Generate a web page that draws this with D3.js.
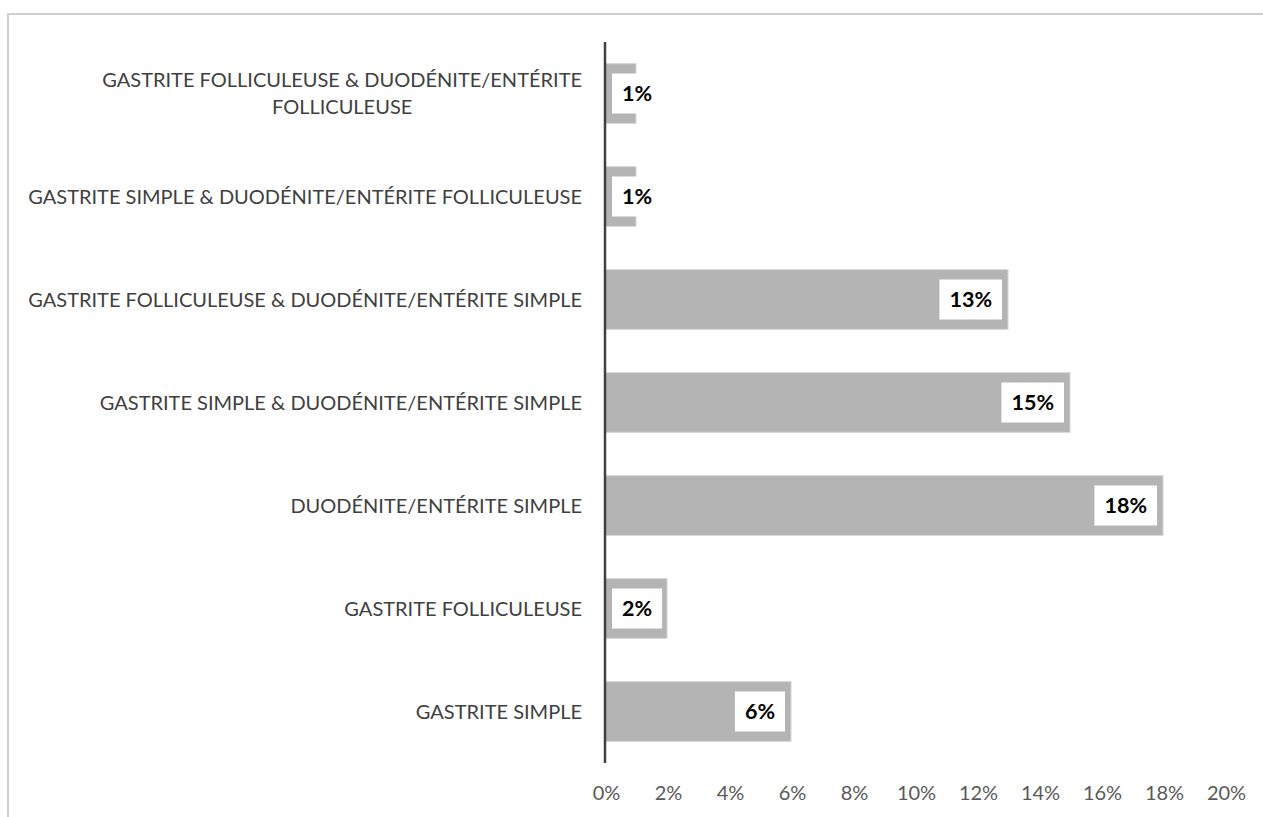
<!DOCTYPE html>
<html><head><meta charset="utf-8">
<script src="https://cdn.jsdelivr.net/npm/d3@7"></script>
<style>
html,body{margin:0;padding:0;background:#fff;}
svg{display:block;}
</style></head>
<body>
<svg id="chart" width="1263" height="817"></svg>
<script>
const categories = [
  ["GASTRITE FOLLICULEUSE & DUODÉNITE/ENTÉRITE", "FOLLICULEUSE"],
  ["GASTRITE SIMPLE & DUODÉNITE/ENTÉRITE FOLLICULEUSE"],
  ["GASTRITE FOLLICULEUSE & DUODÉNITE/ENTÉRITE SIMPLE"],
  ["GASTRITE SIMPLE & DUODÉNITE/ENTÉRITE SIMPLE"],
  ["DUODÉNITE/ENTÉRITE SIMPLE"],
  ["GASTRITE FOLLICULEUSE"],
  ["GASTRITE SIMPLE"]
];
const values = [1, 1, 13, 15, 18, 2, 6];
const xTicks = [0, 2, 4, 6, 8, 10, 12, 14, 16, 18, 20];

const svg = d3.select("#chart");
const font = "Lato, 'Open Sans', sans-serif";
const catSize = 20;

// outer border
svg.append("rect").attr("x", 8).attr("y", 14).attr("width", 1300).attr("height", 900)
  .attr("fill", "none").attr("stroke", "#d0d0d0").attr("stroke-width", 2);

const x = d3.scaleLinear().domain([0, 20]).range([605, 1225]);
const y = d3.scaleBand().domain(d3.range(categories.length)).range([42, 763]).paddingInner(0.42).paddingOuter(0.21);

svg.append("g").selectAll("rect.bar").data(values).join("rect").attr("class", "bar")
  .attr("x", x(0)).attr("y", (d, i) => y(i))
  .attr("width", d => x(d) - x(0)).attr("height", y.bandwidth())
  .attr("fill", "#b4b4b4").attr("stroke", "#d6d6d6").attr("stroke-width", 1);

// axis line
svg.append("line").attr("x1", x(0)).attr("x2", x(0)).attr("y1", 42).attr("y2", 763)
  .attr("stroke", "#404040").attr("stroke-width", 2.5);

// category labels
categories.forEach((lines, i) => {
  const cy = y(i) + y.bandwidth() / 2;
  const lh = 27;
  const t = svg.append("text").attr("font-family", font).attr("font-size", catSize)
    .attr("fill", "#404040");
  const y0 = cy - (lines.length - 1) * lh / 2;
  if (lines.length === 1) {
    t.append("tspan").attr("x", 582).attr("y", y0).attr("dy", "0.35em")
      .attr("text-anchor", "end").text(lines[0]);
  } else {
    const tmp = svg.append("text").attr("font-family", font).attr("font-size", catSize).text(lines[0]);
    const w = tmp.node().getComputedTextLength(); tmp.remove();
    const cx = 582 - w / 2;
    lines.forEach((ln, k) => {
      t.append("tspan").attr("x", cx).attr("y", y0 + k * lh).attr("dy", "0.35em")
        .attr("text-anchor", "middle").text(ln);
    });
  }
});

// data labels
values.forEach((v, i) => {
  const cy = y(i) + y.bandwidth() / 2;
  const txt = svg.append("text").attr("font-family", font).attr("font-size", 21.5)
    .attr("font-weight", "bold").attr("fill", "#000").attr("text-anchor", "middle")
    .attr("dy", "0.35em").text(v + "%");
  const tw = txt.node().getComputedTextLength();
  const bw = tw + 20, bh = 40;
  const right = Math.max(x(v) - 6, x(0) + 7 + bw);
  svg.append("rect").attr("x", right - bw).attr("y", cy - bh / 2)
    .attr("width", bw).attr("height", bh).attr("fill", "#fff");
  txt.attr("x", right - bw / 2).attr("y", cy).raise();
});

// x axis
const xAxis = d3.axisBottom(x).tickValues(xTicks).tickSize(0).tickPadding(0)
  .tickFormat(d => d + "%");
const ax = svg.append("g").attr("transform", "translate(1,786)").call(xAxis);
ax.select(".domain").remove();
ax.selectAll("text").attr("font-family", font).attr("font-size", 20).attr("fill", "#595959");
</script>
</body></html>
